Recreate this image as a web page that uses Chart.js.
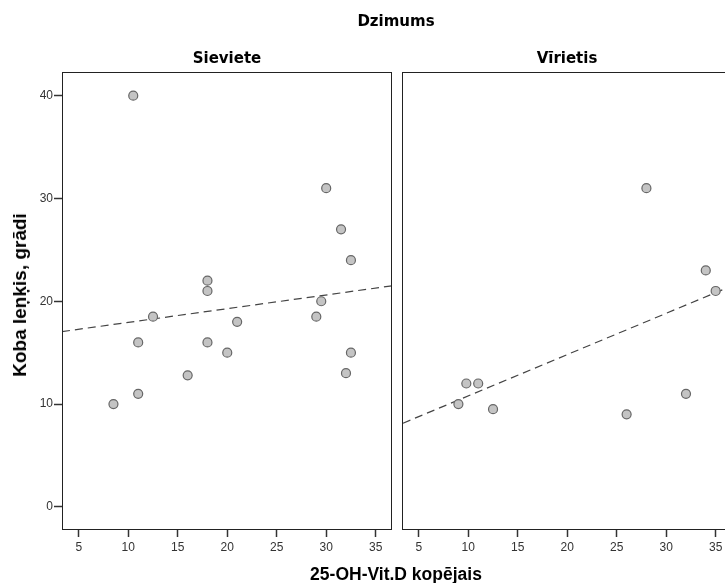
<!DOCTYPE html>
<html>
<head>
<meta charset="utf-8">
<script src="https://cdn.jsdelivr.net/npm/chart.js@4"></script>
<style>
    html, body { margin: 0; padding: 0; overflow: hidden; background: #fff; }
    #wrap { position: relative; width: 725px; height: 583px; overflow: hidden; }
    canvas { position: absolute; top: 0; }
    .lbl { position: absolute; transform: translate(-50%, -50%); white-space: nowrap; line-height: 1; color: #000; }
    .panel { font: bold 15px "DejaVu Sans", sans-serif; }
    .axis { font: bold 17.5px "Liberation Sans", Arial, sans-serif; }
</style>
</head>
<body>
<div id="wrap">
    <canvas id="leftChart" width="400" height="583" style="left:0"></canvas>
    <canvas id="rightChart" width="400" height="583" style="left:340px"></canvas>
    <div class="lbl panel" style="left:396px; top:21px">Dzimums</div>
    <div class="lbl panel" style="left:227px; top:58px">Sieviete</div>
    <div class="lbl panel" style="left:567px; top:58px">Vīrietis</div>
    <div class="lbl axis" style="left:396px; top:574px">25-OH-Vit.D kopējais</div>
    <div class="lbl axis" style="left:20px; top:295px; font-size:19px; transform: translate(-50%, -50%) rotate(-90deg)">Koba leņķis, grādi</div>
</div>
<script>
// values
const xTicks = [5, 10, 15, 20, 25, 30, 35];
const yTicks = [0, 10, 20, 30, 40];

const femaleVitD  = [10.5, 30, 31.5, 32.5, 18, 18, 29.5, 12.5, 29, 21, 11, 18, 20, 32.5, 16, 32, 11, 8.5];
const femaleAngle = [40, 31, 27, 24, 22, 21, 20, 18.5, 18.5, 18, 16, 16, 15, 15, 12.8, 13, 11, 10];

const maleVitD  = [28, 34, 35, 9.8, 11, 9, 12.5, 26, 32];
const maleAngle = [31, 23, 21, 12, 12, 10, 9.5, 9, 11];

// fit lines, ends read at the panel edges
const femaleFitX = [3.3, 36.65];
const femaleFitY = [17.05, 21.5];
const maleFitX = [3.4, 36.65];
const maleFitY = [8.14, 21.5];

const xMin = 3.3, xMax = 36.65;
const yMin = -2.25, yMax = 42.3;

const framePlugin = {
    id: 'frame',
    afterDraw(chart) {
        const a = chart.chartArea;
        const ctx = chart.ctx;
        ctx.save();
        ctx.strokeStyle = '#222';
        ctx.lineWidth = 1;
        ctx.strokeRect(a.left + 0.5, a.top + 0.5, a.right - a.left - 1, a.bottom - a.top - 1);
        ctx.restore();
    }
};

function toPoints(xs, ys) {
    return xs.map((x, i) => ({ x: x, y: ys[i] }));
}

function makeChart(id, vitD, angle, fitX, fitY, showY) {
    const ctx = document.getElementById(id).getContext('2d');
    return new Chart(ctx, {
        type: 'scatter',
        data: {
            datasets: [{
                type: 'line',
                data: toPoints(fitX, fitY),
                borderColor: '#444',
                borderWidth: 1.2,
                borderDash: [8, 5],
                pointRadius: 0,
                fill: false,
                order: 2
            }, {
                data: toPoints(vitD, angle),
                backgroundColor: '#c4c4c4',
                borderColor: '#666',
                borderWidth: 1.2,
                pointRadius: 4.5,
                order: 1
            }]
        },
        options: {
            responsive: false,
            animation: false,
            devicePixelRatio: 1,
            layout: { padding: { left: 0, top: 72, right: 8, bottom: 0 } },
            plugins: { legend: { display: false }, tooltip: { enabled: false } },
            scales: {
                x: {
                    type: 'linear',
                    min: xMin,
                    max: xMax,
                    afterBuildTicks: s => { s.ticks = xTicks.map(v => ({ value: v })); },
                    afterFit: s => { s.height = 53; },
                    border: { display: false },
                    grid: { drawOnChartArea: false, drawTicks: true, tickLength: 7, tickColor: '#333', tickWidth: 1.5 },
                    ticks: { color: '#333', font: { family: 'Liberation Sans', size: 12 }, padding: 3, maxRotation: 0 }
                },
                y: {
                    type: 'linear',
                    min: yMin,
                    max: yMax,
                    afterBuildTicks: s => { s.ticks = yTicks.map(v => ({ value: v })); },
                    afterFit: s => { s.width = 62; },
                    border: { display: false },
                    grid: { drawOnChartArea: false, drawTicks: showY, tickLength: 8, tickColor: '#333', tickWidth: 1.5 },
                    ticks: { display: showY, color: '#333', font: { family: 'Liberation Sans', size: 12 }, padding: 1 }
                }
            }
        },
        plugins: [framePlugin]
    });
}

makeChart('leftChart', femaleVitD, femaleAngle, femaleFitX, femaleFitY, true);
makeChart('rightChart', maleVitD, maleAngle, maleFitX, maleFitY, false);
</script>
</body>
</html>
